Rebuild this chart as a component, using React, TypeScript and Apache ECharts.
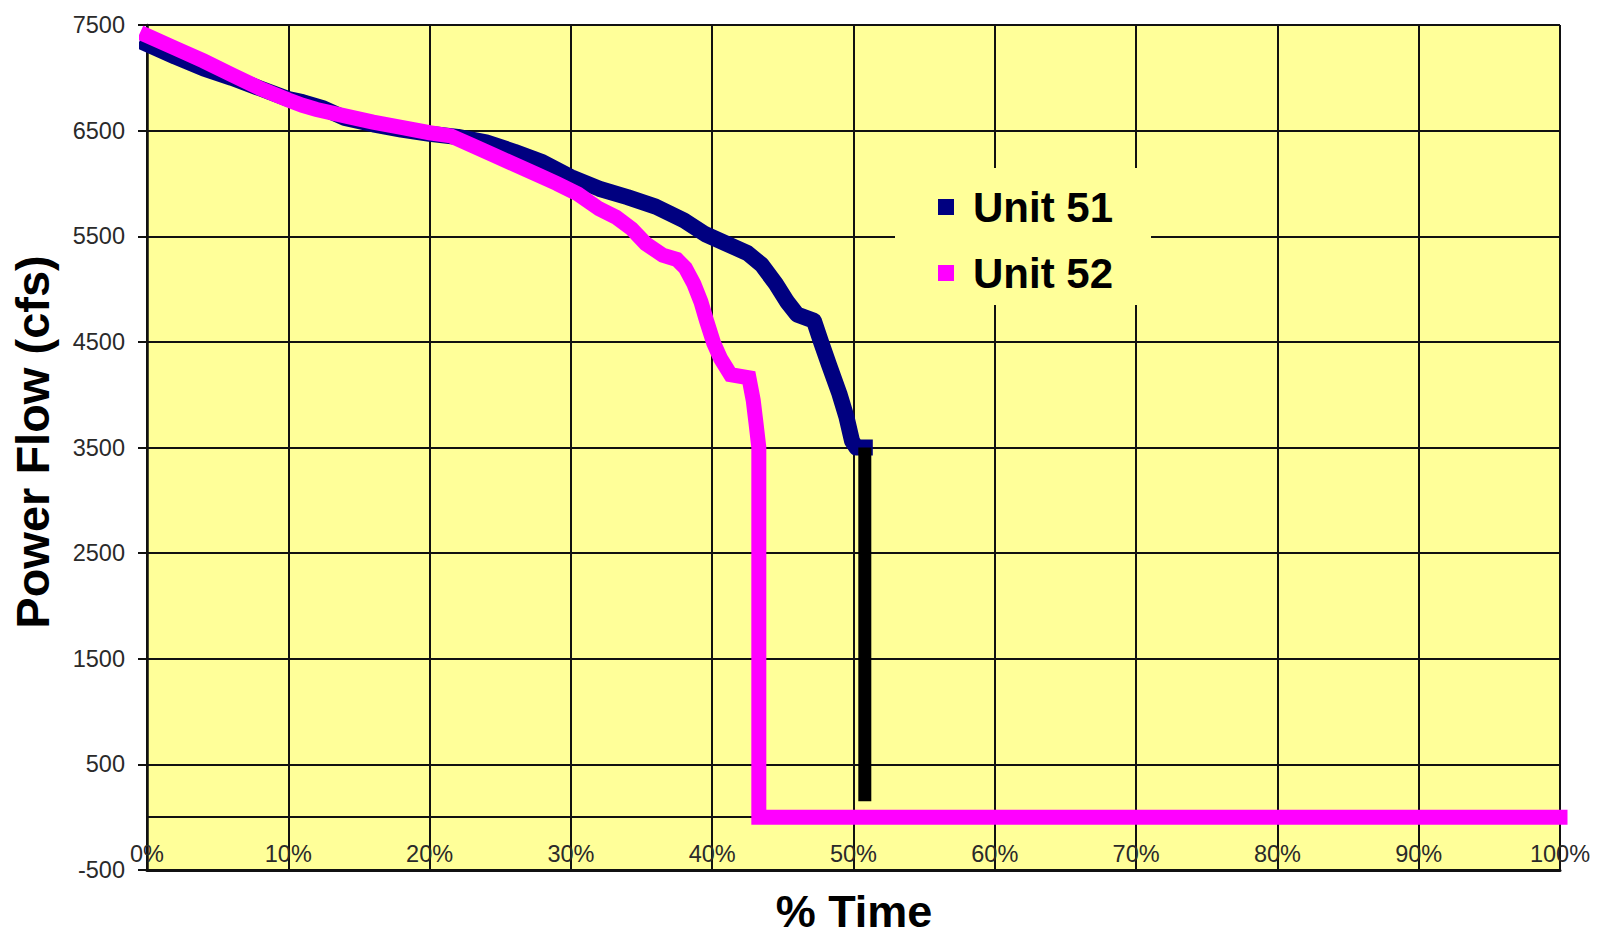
import React, { useEffect, useRef } from 'react';
import * as echarts from 'echarts';

// % Time (x) vs Power Flow in cfs (y)
const unit51: [number, number][] = [
  [0, 7320], [2, 7200], [4, 7090], [6, 7000], [8, 6900], [10, 6800], [11, 6770],
  [12.5, 6710], [14, 6620], [16, 6560], [18, 6510], [20, 6470], [22, 6440],
  [24, 6390], [26, 6300], [28, 6200], [30, 6060], [32, 5950], [34, 5870],
  [36, 5780], [38, 5650], [39.5, 5520], [41, 5430], [42.5, 5340], [43.5, 5230],
  [44.5, 5050], [45.3, 4880], [46, 4760], [47.2, 4700], [47.7, 4500],
  [48.3, 4270], [49, 4010], [49.5, 3790], [49.9, 3560], [50.2, 3500], [50.8, 3500],
];

const unit51Drop: [number, number][] = [
  [50.8, 3500], [50.8, 150],
];

const unit52: [number, number][] = [
  [0, 7400], [2, 7280], [4, 7160], [6, 7030], [8, 6900], [10, 6790], [11, 6740],
  [12, 6700], [14, 6640], [16, 6580], [18, 6530], [20, 6480], [21.5, 6450],
  [23, 6360], [24.5, 6270], [26, 6180], [27.5, 6090], [29, 6000], [30.5, 5900],
  [32, 5760], [33.2, 5680], [34.3, 5570], [35.3, 5430], [36.5, 5320],
  [37.5, 5280], [38.1, 5200], [38.7, 5050], [39.2, 4880], [39.6, 4700],
  [40.1, 4490], [40.6, 4340], [41.3, 4190], [42.6, 4160], [42.9, 3950],
  [43.1, 3730], [43.3, 3500], [43.3, 0], [100, 0],
];

const seriesNames = ['Unit 51', 'Unit 52'];
const yTitle = 'Power Flow (cfs)';
const xTitle = '% Time';

const FONT = '"Liberation Sans", Arial, Helvetica, sans-serif';

export default function App() {
  const ref = useRef<HTMLDivElement>(null);

  useEffect(() => {
    const chart = echarts.init(ref.current!, null, { renderer: 'svg' });
    chart.setOption({
      animation: false,
      backgroundColor: '#ffffff',
      grid: {
        left: 147,
        top: 25,
        right: 48,
        bottom: 69,
        show: true,
        backgroundColor: '#FFFF99',
        borderWidth: 0,
      },
      legend: {
        data: seriesNames,
        orient: 'vertical',
        left: 895,
        top: 168,
        padding: [18, 38, 11, 29],
        itemGap: 24,
        itemWidth: 44,
        itemHeight: 16,
        icon: 'path://M0,0L0,0M44,16L44,16M14,0L30,0L30,16L14,16Z',
        backgroundColor: '#FFFF99',
        itemStyle: { borderWidth: 0 },
        textStyle: {
          fontSize: 42,
          fontWeight: 'bold',
          color: '#000',
          fontFamily: FONT,
        },
      },
      xAxis: {
        type: 'value',
        min: 0,
        max: 100,
        interval: 10,
        axisLine: { show: true, onZero: false, lineStyle: { color: '#111', width: 3 } },
        axisTick: { show: false },
        axisLabel: {
          inside: true,
          margin: 4,
          formatter: '{value}%',
          fontSize: 23.5,
          color: '#2a2a2a',
          fontFamily: FONT,
        },
        splitLine: { show: true, lineStyle: { color: '#111', width: 2 } },
      },
      yAxis: {
        type: 'value',
        min: -500,
        max: 7500,
        interval: 1000,
        axisLine: { show: true, onZero: false, lineStyle: { color: '#111', width: 2.5 } },
        axisTick: { show: true, length: 9, lineStyle: { color: '#111', width: 2 } },
        axisLabel: {
          margin: 22,
          fontSize: 23.5,
          color: '#2a2a2a',
          fontFamily: FONT,
          formatter: (v: number) => String(v),
        },
        splitLine: { show: true, lineStyle: { color: '#111', width: 2 } },
      },
      graphic: [
        {
          type: 'text',
          x: 32.5,
          y: 442,
          rotation: Math.PI / 2,
          style: {
            text: yTitle,
            fontSize: 47,
            fontWeight: 'bold',
            fontFamily: FONT,
            fill: '#000',
            align: 'center',
            verticalAlign: 'middle',
          },
        },
        {
          type: 'text',
          x: 854,
          y: 911,
          style: {
            text: xTitle,
            fontSize: 45,
            fontWeight: 'bold',
            fontFamily: FONT,
            fill: '#000',
            align: 'center',
            verticalAlign: 'middle',
          },
        },
      ],
      series: [
        {
          name: 'Unit 51',
          type: 'line',
          data: unit51,
          showSymbol: false,
          clip: false,
          z: 2,
          color: '#000080',
          lineStyle: { width: 16, color: '#000080', join: 'round', cap: 'square' },
          markLine: {
            silent: true,
            symbol: ['none', 'none'],
            label: { show: false },
            lineStyle: { color: '#111', width: 2, type: 'solid' },
            data: [{ yAxis: 0 }],
          },
        },
        {
          name: 'Unit 51 drop',
          type: 'line',
          data: unit51Drop,
          showSymbol: false,
          clip: false,
          z: 2,
          color: '#000000',
          lineStyle: { width: 13, color: '#000000', cap: 'butt' },
        },
        {
          name: 'Unit 52',
          type: 'line',
          data: unit52,
          showSymbol: false,
          clip: false,
          z: 5,
          color: '#FF00FF',
          lineStyle: { width: 15, color: '#FF00FF', join: 'miter', cap: 'square' },
        },
      ],
    });
    return () => chart.dispose();
  }, []);

  return (
    <div
      ref={ref}
      style={{ position: 'fixed', left: 0, top: 0, width: '1608px', height: '939px', background: '#fff' }}
    />
  );
}
